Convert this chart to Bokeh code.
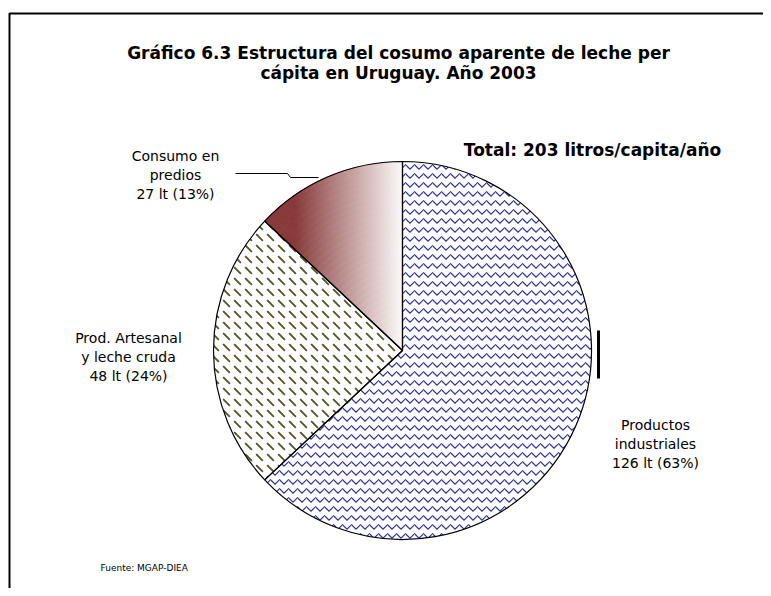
import math
from bokeh.plotting import figure
from bokeh.models import Range1d
from bokeh.core.properties import value
from bokeh.embed import file_html
from bokeh.resources import INLINE

# ---- data ----
categorias = ["Productos industriales", "Prod. Artesanal y leche cruda", "Consumo en predios"]
etiquetas = [["Productos", "industriales"], ["Prod. Artesanal", "y leche cruda"], ["Consumo en", "predios"]]
litros = [126, 48, 27]
porcentajes = [63, 24, 13]
total_litros = 203
titulo = ["Gráfico 6.3 Estructura del cosumo aparente de leche per", "cápita en Uruguay. Año 2003"]
fuente = "Fuente: MGAP-DIEA"

W, H = 763, 588
FONT = "DejaVu Sans"

p = figure(width=W, height=H, output_backend="svg", toolbar_location=None,
           x_range=Range1d(0, W), y_range=Range1d(0, H), min_border=0,
           background_fill_color="white", border_fill_color="white")
p.axis.visible = False
p.grid.visible = False
p.outline_line_color = None

def sx(x):  # screen px -> data
    return x
def sy(y):
    return H - y

cx, cy, R = sx(402), sy(350), 189

# angles (clockwise from top)
tot = sum(porcentajes)
cum = [0]
for v in porcentajes:
    cum.append(cum[-1] + v / tot * 360.0)
def ang(theta):
    return math.radians(90.0 - theta)

# slice 1: wave hatch
p.wedge(x=[cx], y=[cy], radius=R, start_angle=[ang(cum[0])], end_angle=[ang(cum[1])],
        direction="clock", fill_color="white", line_color=None,
        hatch_pattern="horizontal_wave", hatch_color="#2b2b9e", hatch_scale=9, hatch_weight=1.2)
# slice 2: diagonal dashes
p.wedge(x=[cx], y=[cy], radius=R, start_angle=[ang(cum[1])], end_angle=[ang(cum[2])],
        direction="clock", fill_color="white", line_color=None,
        hatch_pattern="left_diagonal_dash", hatch_color="#55552a", hatch_scale=11, hatch_weight=1.8)

# slice 3: linear gradient maroon -> white (approximated by cells)
dark = (136, 58, 58)
x_dark, x_white = sx(295), sx(405)
na, nr = 60, 30
xs, ys, inner, outer, sa, ea, cols = [], [], [], [], [], [], []
for i in range(na):
    t0 = cum[2] + (cum[3] - cum[2]) * i / na
    t1 = cum[2] + (cum[3] - cum[2]) * (i + 1) / na
    for j in range(nr):
        r0 = R * j / nr
        r1 = R * (j + 1) / nr
        tm = math.radians(90 - (t0 + t1) / 2)
        rm = (r0 + r1) / 2
        xm = cx + rm * math.cos(tm)
        t = min(1, max(0, (xm - x_dark) / (x_white - x_dark)))
        c = tuple(int(round(d + (255 - d) * t)) for d in dark)
        xs.append(cx); ys.append(cy); inner.append(r0); outer.append(r1)
        sa.append(ang(t0)); ea.append(ang(t1))
        cols.append("#%02x%02x%02x" % c)
p.annular_wedge(x=xs, y=ys, inner_radius=inner, outer_radius=outer,
                start_angle=sa, end_angle=ea, direction="clock",
                fill_color=cols, line_color=cols, line_width=1)

# outlines
p.wedge(x=[cx] * 3, y=[cy] * 3, radius=R,
        start_angle=[ang(cum[k]) for k in range(3)], end_angle=[ang(cum[k + 1]) for k in range(3)],
        direction="clock", fill_color=None, line_color="black", line_width=1.2)

# dark bar on right edge
p.line(x=[sx(598), sx(598)], y=[sy(330), sy(378)], line_color="black", line_width=3)

# frame (top + left)
p.line(x=[sx(9), sx(9), sx(771)], y=[sy(600), sy(13), sy(13)], line_color="black", line_width=2)

# title
p.text(x=[sx(398), sx(398)], y=[sy(52), sy(72)], text=titulo, text_align="center",
       text_baseline="middle", text_font=value(FONT), text_font_style="bold",
       text_font_size="17px", text_color="black")

p.text(x=[sx(592)], y=[sy(149)], text=[f"Total: {total_litros} litros/capita/año"],
       text_align="center", text_baseline="middle", text_font=value(FONT),
       text_font_style="bold", text_font_size="17px", text_color="black")

# labels
lab_pos = [(655, 424), (128, 337), (175, 155)]
for k in range(3):
    lx, ly = lab_pos[k]
    lines = etiquetas[k] + [f"{litros[k]} lt ({porcentajes[k]}%)"]
    p.text(x=[sx(lx)] * 3, y=[sy(ly), sy(ly + 19), sy(ly + 38)], text=lines,
           text_align="center", text_baseline="middle", text_font=value(FONT),
           text_font_size="14px", text_color="black")

# leader line
p.line(x=[sx(235), sx(287), sx(290), sx(318)], y=[sy(173), sy(173), sy(177), sy(177)],
       line_color="black", line_width=1)

p.text(x=[sx(100)], y=[sy(567)], text=[fuente], text_align="left", text_baseline="middle",
       text_font=value(FONT), text_font_size="9px", text_color="black")

open("out.html", "w").write(file_html(p, INLINE))
